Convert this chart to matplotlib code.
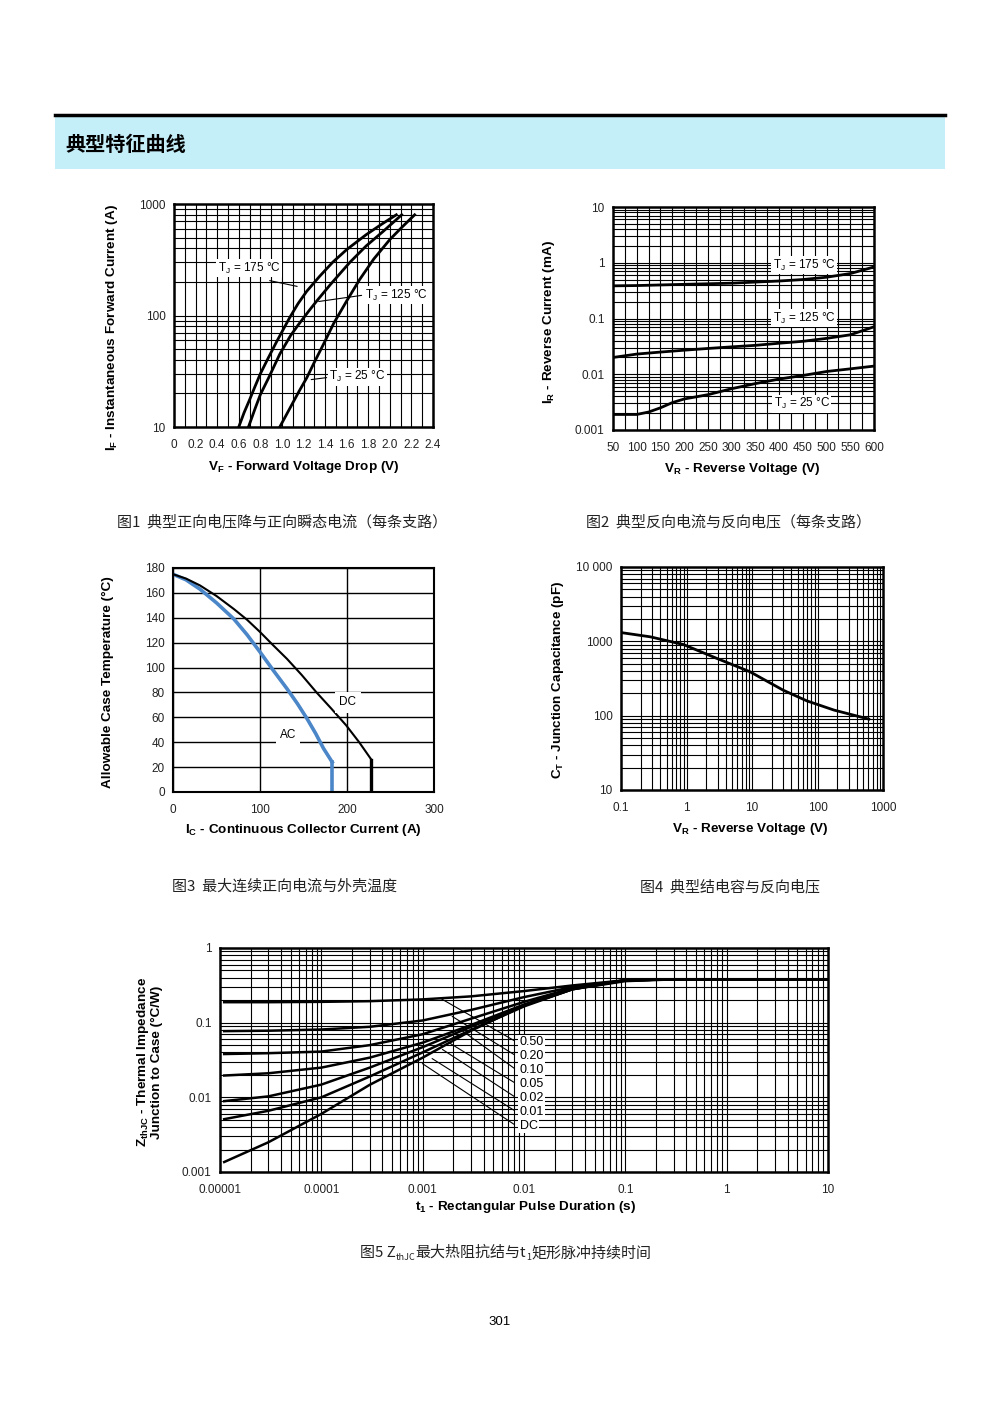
import numpy as np
import matplotlib.pyplot as plt
from matplotlib.ticker import LogLocator, MultipleLocator, FixedLocator, NullFormatter
from matplotlib.patches import Rectangle
from matplotlib.lines import Line2D

plt.rcParams['font.family'] = ['Liberation Sans', 'DejaVu Sans']
plt.rcParams['mathtext.fontset'] = 'custom'
plt.rcParams['mathtext.rm'] = 'Liberation Sans'
plt.rcParams['mathtext.bf'] = 'Liberation Sans:bold'
CJK = ['Noto Sans CJK SC', 'DejaVu Sans']

# Fig1: forward voltage drop vs current
vf_175 = [0.60, 0.65, 0.70, 0.75, 0.80, 0.87, 0.95, 1.07, 1.15, 1.23, 1.35, 1.47, 1.60, 1.78, 1.92, 2.06]
if_175 = [10, 13.5, 17.5, 23, 30, 41, 58, 95, 128, 165, 225, 300, 390, 530, 655, 800]
vf_125 = [0.69, 0.75, 0.80, 0.88, 0.98, 1.08, 1.15, 1.25, 1.32, 1.45, 1.55, 1.63, 1.78, 1.94, 2.11]
if_125 = [10, 14.5, 19.5, 28, 45, 66, 82, 110, 134, 190, 245, 300, 420, 570, 800]
vf_25 = [0.98, 1.04, 1.10, 1.16, 1.23, 1.30, 1.38, 1.48, 1.60, 1.72, 1.85, 2.00, 2.12, 2.23]
if_25 = [10, 12.8, 16.4, 21, 27.6, 38, 54, 85, 135, 210, 320, 480, 630, 800]

# Fig2: reverse current vs reverse voltage
vr = [50, 100, 150, 200, 250, 300, 350, 400, 450, 500, 550, 600]
ir_175 = [0.385, 0.39, 0.40, 0.41, 0.42, 0.43, 0.45, 0.47, 0.50, 0.55, 0.64, 0.84]
ir_125 = [0.020, 0.023, 0.025, 0.027, 0.029, 0.031, 0.033, 0.036, 0.039, 0.044, 0.051, 0.071]
vr_25 = [50, 75, 100, 125, 150, 175, 200, 250, 300, 350, 400, 450, 500, 550, 600]
ir_25 = [0.0019, 0.0019, 0.0019, 0.0021, 0.0025, 0.0031, 0.0036, 0.0043, 0.0055,
         0.0068, 0.0082, 0.0095, 0.0112, 0.0125, 0.014]

# Fig3: allowable case temperature vs current
dc_ic = [0, 15, 31, 50, 70, 85, 100, 115, 131, 148, 165, 182, 199, 214, 228]
dc_tc = [175, 171.5, 166, 157.5, 147, 138.5, 128.6, 118, 107, 94, 80, 67, 53.6, 40, 26]
ac_ic = [0, 15, 31, 50, 70, 85, 100, 115, 131, 143, 154, 164, 173, 183]
ac_tc = [175, 170.5, 163, 152, 139, 126.5, 112.5, 98, 83, 71, 59, 47, 35, 24]

# Fig4: junction capacitance
vr4 = [0.1, 0.28, 0.9, 2.9, 9.3, 30, 69, 178, 605]
ct4 = [1312, 1150, 905, 590, 390, 220, 158, 119, 90]

# Fig5: transient thermal impedance
t5 = [1.1e-5, 3e-5, 1e-4, 3e-4, 1e-3, 3e-3, 1e-2, 3e-2, 0.1, 0.3, 10]
z_050 = [0.188, 0.188, 0.19, 0.194, 0.205, 0.225, 0.265, 0.315, 0.37, 0.38, 0.38]
z_020 = [0.077, 0.078, 0.081, 0.088, 0.107, 0.148, 0.22, 0.30, 0.37, 0.38, 0.38]
z_010 = [0.038, 0.039, 0.041, 0.050, 0.070, 0.113, 0.19, 0.29, 0.37, 0.38, 0.38]
z_005 = [0.0196, 0.021, 0.025, 0.034, 0.054, 0.093, 0.175, 0.285, 0.37, 0.38, 0.38]
z_002 = [0.0089, 0.0103, 0.0148, 0.025, 0.047, 0.088, 0.17, 0.28, 0.37, 0.38, 0.38]
z_001 = [0.0051, 0.0066, 0.0100, 0.019, 0.040, 0.080, 0.165, 0.28, 0.37, 0.38, 0.38]
z_dc = [0.00136, 0.0025, 0.006, 0.0147, 0.034, 0.078, 0.17, 0.28, 0.36, 0.38, 0.38]
duty_labels = ["0.50", "0.20", "0.10", "0.05", "0.02", "0.01", "DC"]

W, H = 1000, 1414
fig = plt.figure(figsize=(10, 14.14), dpi=100)


def rect(l, t, r, b):
    return [l / W, 1 - b / H, (r - l) / W, (b - t) / H]


def fy(py):
    return 1 - py / H


def style(ax, lw=1.8):
    for s in ax.spines.values():
        s.set_linewidth(lw)
    ax.tick_params(which='both', length=0, labelsize=8.5, pad=6, colors='#222222')
    ax.tick_params(axis='x', pad=8.5)
    ax.grid(which='both', color='black', lw=0.8)
    ax.set_axisbelow(True)


lab = dict(fontsize=9.7, fontweight='bold')
tag = dict(fontsize=8.5, bbox=dict(fc='white', ec='none', pad=1.0))

# ---- header ----
fig.add_artist(Rectangle((55 / W, fy(169)), 890 / W, 52 / H, transform=fig.transFigure,
                         fc='#c4eef8', ec='none'))
fig.add_artist(Line2D([55 / W, 945 / W], [fy(115), fy(115)], transform=fig.transFigure,
                      color='black', lw=2.5))
fig.text(65 / W, fy(144), "典型特征曲线", family=CJK, fontsize=14.5, fontweight='bold',
         va='center', ha='left')

# ---- Fig 1 ----
ax1 = fig.add_axes(rect(174, 204, 433, 427))
ax1.plot(vf_175, if_175, color='black', lw=2)
ax1.plot(vf_125, if_125, color='black', lw=2)
ax1.plot(vf_25, if_25, color='black', lw=2)
ax1.set_yscale('log')
ax1.set_xlim(0, 2.4)
ax1.set_ylim(10, 1000)
ax1.xaxis.set_minor_locator(MultipleLocator(0.1))
ax1.set_xticks(np.arange(0, 2.41, 0.2))
ax1.set_xticklabels(["0"] + ["%.1f" % v for v in np.arange(0.2, 2.41, 0.2)])
ax1.yaxis.set_major_locator(FixedLocator([10, 100, 1000]))
ax1.yaxis.set_minor_locator(LogLocator(subs=range(2, 10)))
ax1.yaxis.set_minor_formatter(NullFormatter())
ax1.set_yticklabels(["10", "100", "1000"])
style(ax1)
ax1.annotate("", xy=(0.486, 0.628), xytext=(0.359, 0.659), xycoords='axes fraction',
             arrowprops=dict(arrowstyle='-', lw=0.8))
ax1.text(0.29, 0.713, r"T$_\mathregular{J}$ = 175 °C", transform=ax1.transAxes, ha='center', va='center', **tag)
ax1.annotate("", xy=(0.548, 0.561), xytext=(0.735, 0.592), xycoords='axes fraction',
             arrowprops=dict(arrowstyle='-', lw=0.8))
ax1.text(0.737, 0.592, r"T$_\mathregular{J}$ = 125 °C", transform=ax1.transAxes, ha='left', va='center', **tag)
ax1.annotate("", xy=(0.519, 0.211), xytext=(0.6, 0.223), xycoords='axes fraction',
             arrowprops=dict(arrowstyle='-', lw=0.8))
ax1.text(0.6, 0.226, r"T$_\mathregular{J}$ = 25 °C", transform=ax1.transAxes, ha='left', va='center', **tag)
fig.text(304 / W, fy(467), r"V$_\mathbf{F}$ - Forward Voltage Drop (V)", ha='center', va='center', **lab)
fig.text(112 / W, fy(328), r"I$_\mathbf{F}$ - Instantaneous Forward Current (A)", ha='center', va='center',
         rotation=90, **lab)

# ---- Fig 2 ----
ax2 = fig.add_axes(rect(613, 207, 874, 430))
ax2.plot(vr, ir_175, color='black', lw=2)
ax2.plot(vr, ir_125, color='black', lw=2)
ax2.plot(vr_25, ir_25, color='black', lw=2)
ax2.set_yscale('log')
ax2.set_xlim(50, 600)
ax2.set_ylim(0.001, 10)
ax2.xaxis.set_major_locator(MultipleLocator(50))
ax2.xaxis.set_minor_locator(MultipleLocator(25))
ax2.yaxis.set_major_locator(FixedLocator([0.001, 0.01, 0.1, 1, 10]))
ax2.yaxis.set_minor_locator(LogLocator(subs=range(2, 10)))
ax2.yaxis.set_minor_formatter(NullFormatter())
ax2.set_yticklabels(["0.001", "0.01", "0.1", "1", "10"])
style(ax2)
ax2.text(0.732, 0.74, r"T$_\mathregular{J}$ = 175 °C", transform=ax2.transAxes, ha='center', va='center', **tag)
ax2.text(0.732, 0.502, r"T$_\mathregular{J}$ = 125 °C", transform=ax2.transAxes, ha='center', va='center', **tag)
ax2.text(0.724, 0.117, r"T$_\mathregular{J}$ = 25 °C", transform=ax2.transAxes, ha='center', va='center', **tag)
fig.text(742 / W, fy(469), r"V$_\mathbf{R}$ - Reverse Voltage (V)", ha='center', va='center', **lab)
fig.text(549 / W, fy(322), r"I$_\mathbf{R}$ - Reverse Current (mA)", ha='center', va='center',
         rotation=90, **lab)

# ---- Fig 3 ----
ax3 = fig.add_axes(rect(173, 568, 434, 792))
ax3.plot(ac_ic, ac_tc, color='#4a86c8', lw=2.6)
ax3.plot([ac_ic[-1], ac_ic[-1]], [ac_tc[-1], 0], color='#4a86c8', lw=2.6)
ax3.plot(dc_ic, dc_tc, color='black', lw=1.5)
ax3.plot([dc_ic[-1], dc_ic[-1]], [dc_tc[-1], 0], color='black', lw=2.4)
ax3.set_xlim(0, 300)
ax3.set_ylim(0, 180)
ax3.xaxis.set_major_locator(MultipleLocator(100))
ax3.yaxis.set_major_locator(MultipleLocator(20))
for s in ax3.spines.values():
    s.set_linewidth(1.5)
ax3.tick_params(length=0, labelsize=8.5, pad=6, colors='#222222')
ax3.tick_params(axis='x', pad=8.5)
ax3.grid(color='black', lw=1.0)
ax3.set_axisbelow(True)
ax3.text(201, 72, "DC", ha='center', va='center', fontsize=8.5,
         bbox=dict(fc='white', ec='none', pad=3))
ax3.text(132, 46, "AC", ha='center', va='center', fontsize=8.5,
         bbox=dict(fc='white', ec='none', pad=3))
fig.text(303 / W, fy(830), r"I$_\mathbf{C}$ - Continuous Collector Current (A)", ha='center', va='center', **lab)
fig.text(108 / W, fy(682), "Allowable Case Temperature (°C)", ha='center', va='center',
         rotation=90, **lab)

# ---- Fig 4 ----
ax4 = fig.add_axes(rect(621, 567, 883, 790))
ax4.plot(vr4, ct4, color='black', lw=2)
ax4.set_xscale('log')
ax4.set_yscale('log')
ax4.set_xlim(0.1, 1000)
ax4.set_ylim(10, 10000)
ax4.xaxis.set_major_locator(FixedLocator([0.1, 1, 10, 100, 1000]))
ax4.xaxis.set_minor_locator(LogLocator(subs=range(2, 10)))
ax4.xaxis.set_minor_formatter(NullFormatter())
ax4.set_xticklabels(["0.1", "1", "10", "100", "1000"])
ax4.yaxis.set_major_locator(FixedLocator([10, 100, 1000, 10000]))
ax4.yaxis.set_minor_locator(LogLocator(subs=range(2, 10)))
ax4.yaxis.set_minor_formatter(NullFormatter())
ax4.set_yticklabels(["10", "100", "1000", "10 000"])
style(ax4)
fig.text(750 / W, fy(829), r"V$_\mathbf{R}$ - Reverse Voltage (V)", ha='center', va='center', **lab)
fig.text(558 / W, fy(680), r"C$_\mathbf{T}$ - Junction Capacitance (pF)", ha='center', va='center',
         rotation=90, **lab)

# ---- Fig 5 ----
ax5 = fig.add_axes(rect(220, 948, 828, 1172))
for z in [z_050, z_020, z_010, z_005, z_002, z_001, z_dc]:
    ax5.plot(t5, z, color='black', lw=1.8)
ax5.set_xscale('log')
ax5.set_yscale('log')
ax5.set_xlim(1e-5, 10)
ax5.set_ylim(0.001, 1)
ax5.xaxis.set_major_locator(FixedLocator([1e-5, 1e-4, 1e-3, 1e-2, 0.1, 1, 10]))
ax5.xaxis.set_minor_locator(LogLocator(subs=range(2, 10)))
ax5.xaxis.set_minor_formatter(NullFormatter())
ax5.set_xticklabels(["0.00001", "0.0001", "0.001", "0.01", "0.1", "1", "10"])
ax5.yaxis.set_major_locator(FixedLocator([0.001, 0.01, 0.1, 1]))
ax5.yaxis.set_minor_locator(LogLocator(subs=range(2, 10)))
ax5.yaxis.set_minor_formatter(NullFormatter())
ax5.set_yticklabels(["0.001", "0.01", "0.1", "1"])
style(ax5)
starts = [(0.359, 0.781), (0.378, 0.701), (0.390, 0.647), (0.375, 0.580),
          (0.362, 0.554), (0.345, 0.513), (0.329, 0.491)]
ends_y = [0.580, 0.517, 0.455, 0.393, 0.330, 0.268, 0.205]
for (sx, sy), ey, txt in zip(starts, ends_y, duty_labels):
    ax5.annotate("", xy=(0.488, ey), xytext=(sx, sy), xycoords='axes fraction',
                 arrowprops=dict(arrowstyle='-', lw=0.8))
    ax5.text(0.493, ey, txt, transform=ax5.transAxes, ha='left', va='center', fontsize=9,
             bbox=dict(fc='white', ec='none', pad=1.0))
fig.text(525 / W, fy(1207), r"t$_\mathbf{1}$ - Rectangular Pulse Duration (s)", ha='center', va='center', **lab)
fig.text(149 / W, fy(1062), "Z$_\\mathbf{thJC}$ - Thermal Impedance\nJunction to Case (°C/W)",
         ha='center', va='center', rotation=90, linespacing=1.0, **lab)

# ---- captions ----
cap = dict(family=CJK, fontsize=10.8, ha='center', va='center', color='#222222')
fig.text(282 / W, fy(522), "图1  典型正向电压降与正向瞬态电流（每条支路）", **cap)
fig.text(728 / W, fy(522), "图2  典型反向电流与反向电压（每条支路）", **cap)
fig.text(285 / W, fy(887), "图3  最大连续正向电流与外壳温度", **cap)
fig.text(730 / W, fy(887), "图4  典型结电容与反向电压", **cap)

renderer = fig.canvas.get_renderer()
pieces = [("图5 Z", 10.8, 0), ("thJC", 6.5, 3), ("最大热阻抗结与t", 10.8, 0),
          ("1", 6.5, 3), ("矩形脉冲持续时间", 10.8, 0)]
x = 360
for s, size, dy in pieces:
    t = fig.text(x / W, fy(1257 + dy), s, family=CJK, fontsize=size, ha='left',
                 va='baseline', color='#222222')
    x += t.get_window_extent(renderer).width

fig.text(500 / W, fy(1322), "301", ha='center', va='center', fontsize=9.5)

fig.savefig("out.png", dpi=100)
